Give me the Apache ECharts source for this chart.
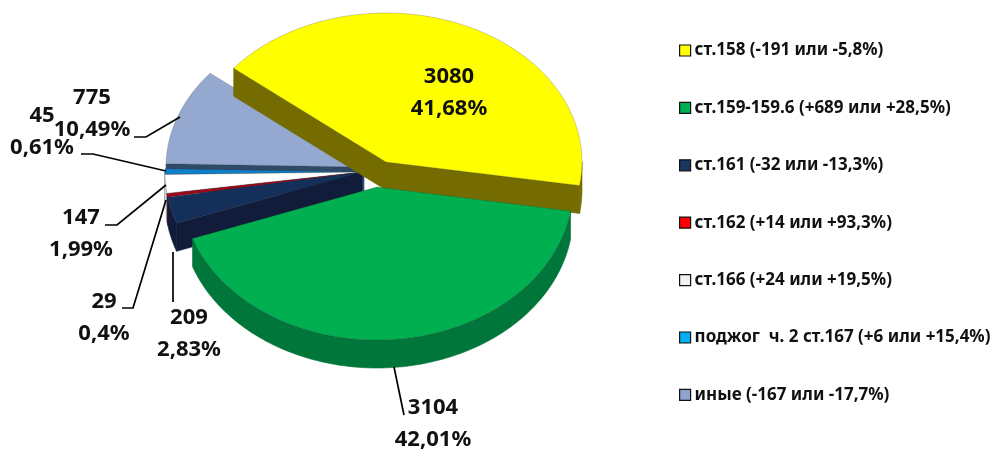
<!DOCTYPE html>
<html>
<head>
<meta charset="utf-8">
<style>
    html, body { margin: 0; padding: 0; background: #fff; }
    #chart { width: 996px; height: 451px; }
</style>
</head>
<body>
<div id="chart"></div>
<script src="https://cdn.jsdelivr.net/npm/echarts@6/dist/echarts.min.js"></script>
<script>
    // data
    let names = [
        "ст.158 (-191 или -5,8%)",
        "ст.159-159.6 (+689 или +28,5%)",
        "ст.161 (-32 или -13,3%)",
        "ст.162 (+14 или +93,3%)",
        "ст.166 (+24 или +19,5%)",
        "поджог  ч. 2 ст.167 (+6 или +15,4%)",
        "иные (-167 или -17,7%)"
    ];
    let values = [3080, 3104, 209, 29, 147, 45, 775];
    let percents = ["41,68%", "42,01%", "2,83%", "0,4%", "1,99%", "0,61%", "10,49%"];

    // styles and layout
    let topColors = ["#FFFF00", "#00B050", "#14305A", "#A00818", "#FFFFFF", "#0F7FC8", "#95A9D0"];
    let legendColors = ["#FFFF00", "#00B050", "#17375E", "#FF0000", "#F2F2F2", "#00B0F0", "#8EA4CF"];
    let sideColors = ["#746C00", "#00763A", "#101C3A", "#600010", "#D8D8D8", "#0A5080", "#2F4A68"];
    let drawOrder = [6, 7, 5, 4, 3, 2, 1];
    let showCutFaces = [true, false, true, false, false, false, true];
    let slices = [
        { cx: 386, cy: 162, rx: 196, ry: 149 },
        { cx: 377, cy: 187, rx: 196, ry: 153 },
        { cx: 362, cy: 172, rx: 197, ry: 152 },
        { cx: 362, cy: 172, rx: 197, ry: 152 },
        { cx: 362, cy: 172, rx: 197, ry: 152 },
        { cx: 362, cy: 172, rx: 197, ry: 152 },
        { cx: 364, cy: 167, rx: 198, ry: 149 }
    ];
    let labelPos = [[449, 93], [433, 424], [189, 334], [104, 318], [81, 234], [42, 132], [92, 114]];
    let leaders = [
        null,
        [[394, 367], [404, 415]],
        [[173, 252], [173, 302]],
        [[166, 200], [133, 308], [122, 308]],
        [[166, 185], [117, 225], [105, 225]],
        [[166, 171], [93, 154], [81, 154]],
        [[180, 117], [146, 137], [134, 137]]
    ];
    let depth = 28;
    let startAngle = 141;
    let fontName = "'Noto Sans', sans-serif";

    let total = values.reduce((a, b) => a + b, 0);

    function ellipsePoint(s, deg, dy) {
        let t = deg * Math.PI / 180;
        return [s.cx + s.rx * Math.cos(t), s.cy - s.ry * Math.sin(t) + dy];
    }

    function arcPoints(s, from, to, dy) {
        let points = [];
        let steps = Math.max(2, Math.ceil(Math.abs(from - to)));
        for (let i = 0; i <= steps; i++) {
            points.push(ellipsePoint(s, from + (to - from) * i / steps, dy));
        }
        return points;
    }

    function polygon(points, fill, stroke) {
        return {
            type: "polygon",
            shape: { points: points },
            style: { fill: fill, stroke: stroke, lineWidth: 0.6 }
        };
    }

    function renderSlice(index, value) {
        let before = values.slice(0, index).reduce((a, b) => a + b, 0);
        let t0 = startAngle - before / total * 360;
        let t1 = t0 - value / total * 360;
        let s = slices[index];
        let side = sideColors[index];
        let top = topColors[index];
        let apex = [s.cx, s.cy];
        let apexLow = [s.cx, s.cy + depth];
        let children = [];

        // cut faces that look towards the viewer
        if (showCutFaces[index]) {
            if (Math.cos(t0 * Math.PI / 180) < 0) {
                children.push(polygon([apex, ellipsePoint(s, t0, 0), ellipsePoint(s, t0, depth), apexLow], side, side));
            }
            if (Math.cos(t1 * Math.PI / 180) > 0) {
                children.push(polygon([apex, ellipsePoint(s, t1, 0), ellipsePoint(s, t1, depth), apexLow], side, side));
            }
        }

        // outer rim, only the part on the lower half of the ellipse
        let from = Math.min(t0, 0);
        let to = Math.max(t1, -180);
        if (from > to) {
            let upper = arcPoints(s, from, to, 0);
            let lower = arcPoints(s, to, from, depth);
            children.push(polygon(upper.concat(lower), side, side));
        }

        // top face
        children.push(polygon([apex].concat(arcPoints(s, t0, t1, 0)), top, "rgba(40,40,40,0.35)"));

        if (leaders[index]) {
            children.push({
                type: "polyline",
                shape: { points: leaders[index] },
                style: { stroke: "#000", lineWidth: 1.7, fill: null }
            });
        }
        children.push({
            type: "text",
            style: {
                text: value + "\n" + percents[index],
                x: labelPos[index][0],
                y: labelPos[index][1],
                align: "center",
                verticalAlign: "middle",
                fontFamily: fontName,
                fontWeight: "bold",
                fontSize: 22,
                lineHeight: 32,
                fill: "#111"
            }
        });
        return { type: "group", children: children };
    }

    let series = names.map((name, i) => ({
        name: name,
        type: "custom",
        coordinateSystem: "none",
        silent: true,
        z: drawOrder[i],
        itemStyle: { color: legendColors[i] },
        data: [[values[i]]],
        renderItem: (params, api) => renderSlice(i, api.value(0))
    }));

    let eChart = echarts.init(document.getElementById("chart"), null, { renderer: "canvas" });
    eChart.setOption({
        animation: false,
        backgroundColor: "#fff",
        legend: {
            orient: "vertical",
            left: 674,
            top: 37,
            selectedMode: false,
            icon: "rect",
            itemWidth: 11,
            itemHeight: 11,
            itemGap: 40.4,
            itemStyle: { borderColor: "#111", borderWidth: 1.2 },
            textStyle: {
                fontFamily: fontName,
                fontWeight: "bold",
                fontSize: 17,
                color: "#111",
                padding: [0, 0, 0, -1]
            },
            data: names
        },
        series: series
    });
</script>
</body>
</html>
